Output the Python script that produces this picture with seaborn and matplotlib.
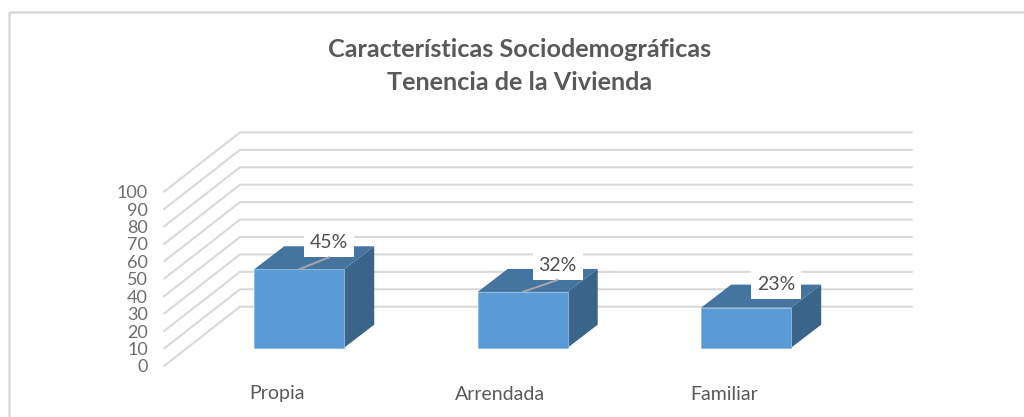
import matplotlib
matplotlib.use("Agg")
import matplotlib.pyplot as plt
from matplotlib.patches import Polygon, Rectangle
import numpy as np
import pandas as pd
import seaborn as sns

categorias = ["Propia", "Arrendada", "Familiar"]
valores = [45, 32, 23]
etiquetas = ["45%", "32%", "23%"]
ticks_y = [0, 10, 20, 30, 40, 50, 60, 70, 80, 90, 100]
titulo = "Características Sociodemográficas\nTenencia de la Vivienda"

# Escala de la imagen: pixeles por categoria y por unidad de valor
W, H = 1024, 417
PX_CAT = 223.5
PX_VAL = 1.743
X0 = 299.2
Y0 = 347.7

AZUL = "#5B9BD5"
AZUL_BORDE = "#8DB9E2"
AZUL_TOP = "#44749F"
AZUL_LADO = "#3A6488"
GRIS_TXT = "#595959"
GRIS_LIN = "#D9D9D9"


def dx(px):
    return px / PX_CAT


def dy(px):
    return px / PX_VAL


sns.set_theme(style="white")
plt.rcParams["font.family"] = ["Lato", "DejaVu Sans"]

fig = plt.figure(figsize=(W / 100, H / 100), dpi=100)
ax = fig.add_axes([0, 0, 1, 1])

df = pd.DataFrame({"categoria": categorias, "valor": valores})
sns.barplot(data=df, x="categoria", y="valor", color=AZUL, width=90 / PX_CAT,
            saturation=1, ax=ax, zorder=3, edgecolor=AZUL_BORDE, linewidth=0.6)

ax.set_xlim(-X0 / PX_CAT, (W - X0) / PX_CAT)
ax.set_ylim((Y0 - H) / PX_VAL, Y0 / PX_VAL)
ax.axis("off")

# Marco del grafico
marco = Rectangle((8.5 / W, 1 - 11.5 / H), 1100 / W, -500 / H, transform=ax.transAxes,
                  fill=False, edgecolor=GRIS_LIN, linewidth=1.8, zorder=1)
ax.add_patch(marco)

# Pared del fondo y piso: lineas de la cuadricula
x_frente = dx(164 - X0)
x_fondo = dx(240 - X0)
x_fin = dx(912 - X0)
for v in ticks_y:
    y_frente = v + dy(Y0 - 366)
    y_fondo = v + dy(Y0 - 306.7)
    ax.plot([x_frente, x_fondo, x_fin], [y_frente, y_fondo, y_fondo],
            color=GRIS_LIN, lw=1.5, zorder=1, solid_joinstyle="miter")
    ax.text(dx(148 - X0), y_frente - dy(1.5), str(v), ha="right", va="center",
            fontsize=13, color="#6E6E6E")

# Caras superior y lateral de cada barra
prof_x = dx(30)
prof_y = dy(23)
for bar in list(ax.patches):
    if bar is marco:
        continue
    x1 = bar.get_x()
    x2 = x1 + bar.get_width()
    h = bar.get_height()
    ax.add_patch(Polygon([(x1, h), (x2, h), (x2 + prof_x, h + prof_y), (x1 + prof_x, h + prof_y)],
                         facecolor=AZUL_TOP, edgecolor="none", zorder=2.9))
    ax.add_patch(Polygon([(x2, 0), (x2 + prof_x, prof_y), (x2 + prof_x, h + prof_y), (x2, h)],
                         facecolor=AZUL_LADO, edgecolor="none", zorder=2.9))

# Etiquetas de datos con caja blanca y linea guia
desp_x = [30, 35, 30]
desp_y = [28, 28, 25]
for i, v in enumerate(valores):
    lx = i + dx(desp_x[i])
    ly = v + dy(desp_y[i])
    if i < 2:
        ax.plot([i, lx], [v, v + dy(desp_y[i] - 16)], color="#A6A6A6", lw=1.4, zorder=5)
    ax.add_patch(Rectangle((lx - dx(25), ly - dy(16)), dx(50), dy(30), facecolor="white",
                           edgecolor="none", zorder=4))
    ax.text(lx, ly - dy(1.5), etiquetas[i], ha="center", va="center", fontsize=14,
            color="#505050", zorder=6)

# Etiquetas del eje x
for i, c in enumerate(categorias):
    ax.text(i + dx(-22.5), dy(Y0 - 394), c, ha="center", va="center", fontsize=14,
            color=GRIS_TXT)

ax.text(dx(519.5 - X0), dy(Y0 - 66), titulo, ha="center", va="center", fontsize=18.2,
        fontweight="bold", color=GRIS_TXT, linespacing=1.5)

fig.savefig("out.png", dpi=100)
